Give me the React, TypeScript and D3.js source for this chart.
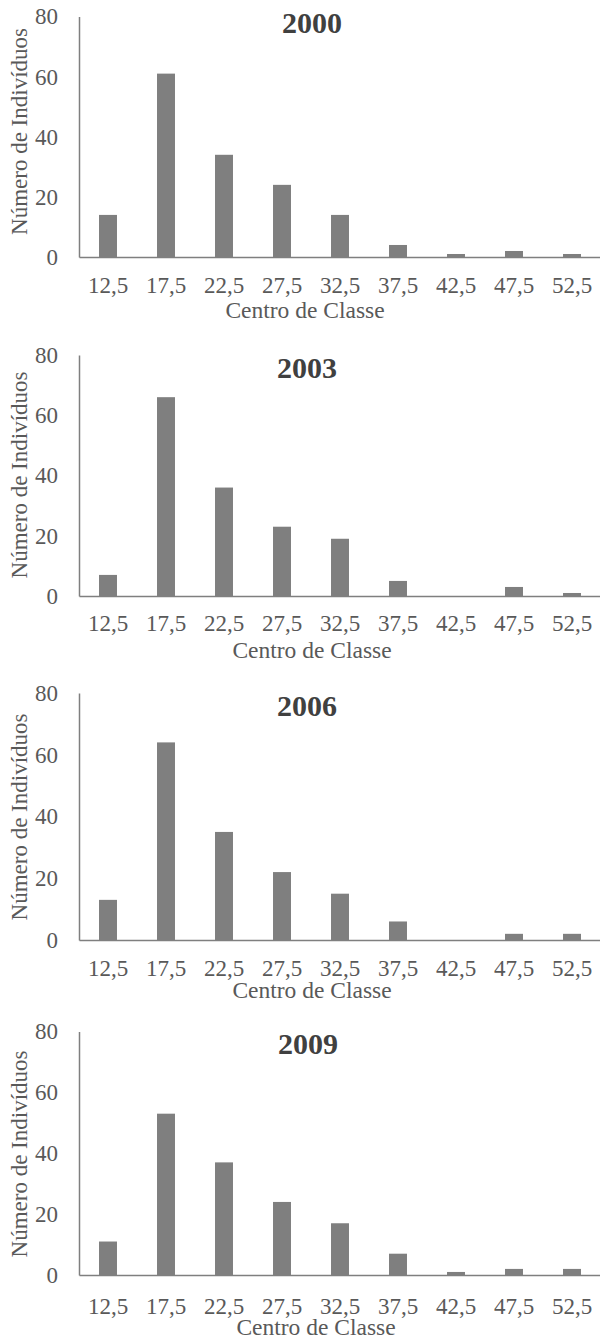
import React, { useEffect, useRef } from 'react';
import * as d3 from 'd3';

const categories = ['12,5', '17,5', '22,5', '27,5', '32,5', '37,5', '42,5', '47,5', '52,5'];
const years = ['2000', '2003', '2006', '2009'];
const counts2000 = [14, 61, 34, 24, 14, 4, 1, 2, 1];
const counts2003 = [7, 66, 36, 23, 19, 5, 0, 3, 1];
const counts2006 = [13, 64, 35, 22, 15, 6, 0, 2, 2];
const counts2009 = [11, 53, 37, 24, 17, 7, 1, 2, 2];
const yTicks = [0, 20, 40, 60, 80];

const series = [counts2000, counts2003, counts2006, counts2009];

// panel placement
const layout = [
  { top: 16.5, base: 257, tickPad: 19.5, xTitleY: 310, xTitleX: 305, yTitleY: 131.5, titleY: 22, titleX: 312 },
  { top: 355, base: 596, tickPad: 18.8, xTitleY: 650, xTitleX: 312, yTitleY: 475, titleY: 367, titleX: 307 },
  { top: 693, base: 940, tickPad: 19.8, xTitleY: 990, xTitleX: 312, yTitleY: 817, titleY: 705, titleX: 307 },
  { top: 1031.5, base: 1275, tickPad: 23, xTitleY: 1327, xTitleX: 316, yTitleY: 1154, titleY: 1043, titleX: 308 },
];

const FONT = '"Liberation Serif", "Times New Roman", serif';
const left = 79;
const right = 601;

const App = () => {
  const svgRef = useRef<SVGSVGElement>(null);

  useEffect(() => {
    const svg = d3.select(svgRef.current);
    svg.selectAll('*').remove();

    const x = d3.scaleBand()
      .domain(categories)
      .range([left, right])
      .paddingInner(0.69)
      .paddingOuter(0.345);

    series.forEach((values, i) => {
      const L = layout[i];
      const y = d3.scaleLinear().domain([0, 80]).range([L.base, L.top]);
      const g = svg.append('g');

      g.selectAll('rect')
        .data(values)
        .join('rect')
        .attr('x', (d, j) => x(categories[j]))
        .attr('y', d => y(d))
        .attr('width', x.bandwidth())
        .attr('height', d => y(0) - y(d))
        .attr('fill', '#7f7f7f');

      const yAxis = g.append('g')
        .attr('transform', `translate(${left},0)`)
        .call(d3.axisLeft(y).tickValues(yTicks).tickSize(0).tickSizeOuter(0).tickPadding(21))
        .attr('font-family', FONT)
        .attr('font-size', 23);
      yAxis.select('.domain').attr('stroke', '#7f7f7f').attr('stroke-width', 1.5);
      yAxis.selectAll('text').attr('fill', '#595959');

      const xAxis = g.append('g')
        .attr('transform', `translate(0,${L.base})`)
        .call(d3.axisBottom(x).tickSize(0).tickSizeOuter(0).tickPadding(L.tickPad))
        .attr('font-family', FONT)
        .attr('font-size', 23);
      xAxis.select('.domain').attr('stroke', '#7f7f7f').attr('stroke-width', 1.5);
      xAxis.selectAll('text').attr('fill', '#595959');

      g.append('text')
        .attr('transform', `translate(19,${L.yTitleY}) rotate(-90)`)
        .attr('text-anchor', 'middle')
        .attr('dominant-baseline', 'central')
        .attr('font-family', FONT)
        .attr('font-size', 23)
        .attr('fill', '#595959')
        .text('Número de Indivíduos');

      g.append('text')
        .attr('x', L.xTitleX)
        .attr('y', L.xTitleY)
        .attr('text-anchor', 'middle')
        .attr('dominant-baseline', 'central')
        .attr('font-family', FONT)
        .attr('font-size', 23.5)
        .attr('fill', '#595959')
        .text('Centro de Classe');

      g.append('text')
        .attr('x', L.titleX)
        .attr('y', L.titleY)
        .attr('text-anchor', 'middle')
        .attr('dominant-baseline', 'central')
        .attr('font-family', FONT)
        .attr('font-size', 30)
        .attr('font-weight', 'bold')
        .attr('fill', '#404040')
        .text(years[i]);
    });
  }, []);

  return (
    <svg
      ref={svgRef}
      width={600}
      height={1339}
      style={{ position: 'absolute', left: 0, top: 0, background: '#fff' }}
    />
  );
};

export default App;
